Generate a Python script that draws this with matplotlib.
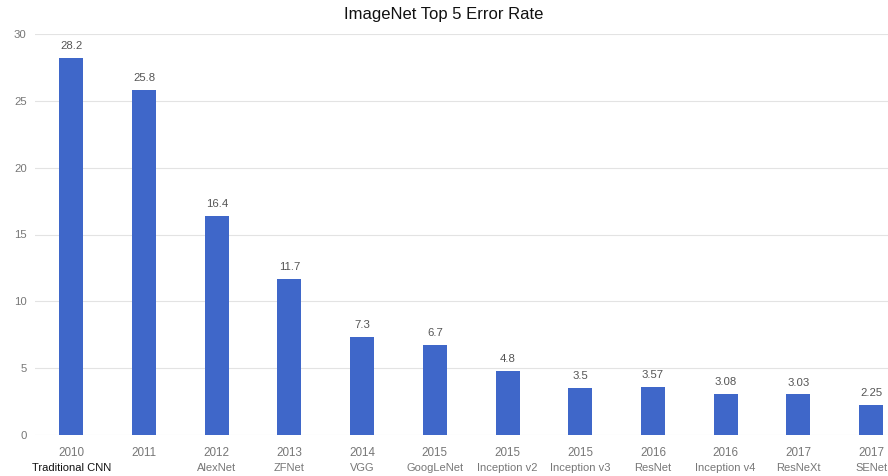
import matplotlib
matplotlib.use("Agg")
import matplotlib.pyplot as plt
from matplotlib.transforms import blended_transform_factory

plt.rcParams['font.family'] = ['Liberation Sans', 'DejaVu Sans']

years = ["2010", "2011", "2012", "2013", "2014", "2015", "2015", "2015", "2016", "2016", "2017", "2017"]
models = ["Traditional CNN", "", "AlexNet", "ZFNet", "VGG", "GoogLeNet", "Inception v2",
          "Inception v3", "ResNet", "Inception v4", "ResNeXt", "SENet"]
errors = [28.2, 25.8, 16.4, 11.7, 7.3, 6.7, 4.8, 3.5, 3.57, 3.08, 3.03, 2.25]
value_labels = ["28.2", "25.8", "16.4", "11.7", "7.3", "6.7", "4.8", "3.5", "3.57", "3.08", "3.03", "2.25"]
yticks = [0, 5, 10, 15, 20, 25, 30]

W, H = 888, 476
fig = plt.figure(figsize=(W / 100, H / 100), dpi=100)
left, right, bottom, top = 35, 888, 435, 34
ax = fig.add_axes([left / W, (H - bottom) / H, (right - left) / W, (bottom - top) / H])

spacing = 72.7
x = list(range(len(errors)))
ax.bar(x, errors, width=0.33, color="#3f67c9", zorder=3)
ax.set_xlim(-0.5, -0.5 + (right - left) / spacing)
ax.set_ylim(0, 30)
ax.set_yticks(yticks)
ax.set_yticklabels([str(v) for v in yticks], color="#777777", fontsize=8.2)
ax.yaxis.grid(True, color="#e3e3e3", linewidth=0.8, zorder=0)
ax.tick_params(axis="y", length=0, pad=6)
ax.tick_params(axis="x", length=0)
ax.set_xticks([])
for s in ax.spines.values():
    s.set_visible(False)

for xi, v, lab in zip(x, errors, value_labels):
    ax.annotate(lab, (xi, v), xytext=(0, 5), textcoords="offset points",
                ha="center", va="bottom", fontsize=8.2, color="#555555")

trans = blended_transform_factory(ax.transData, ax.transAxes)
for xi, yr, m in zip(x, years, models):
    ax.text(xi, -0.03, yr, transform=trans, ha="center", va="top", fontsize=8.4, color="#777777")
    if m:
        col = "#111111" if m == "Traditional CNN" else "#777777"
        ax.text(xi, -0.07, m, transform=trans, ha="center", va="top", fontsize=8, color=col)

fig.text(0.5, 1 - 14 / H, "ImageNet Top 5 Error Rate", ha="center", va="center",
         fontsize=12, color="#111111")

fig.savefig("out.png", dpi=100, facecolor="white")
